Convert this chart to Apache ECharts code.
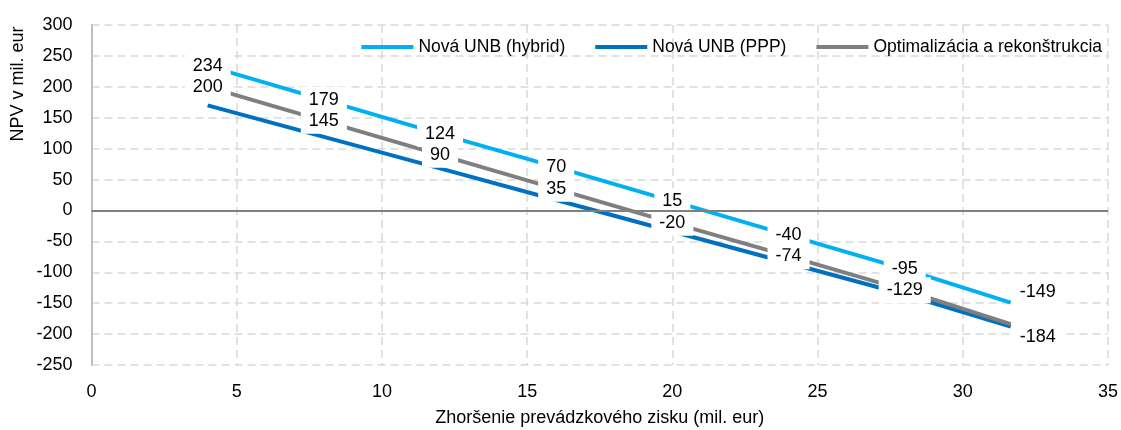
<!DOCTYPE html>
<html>
<head>
<meta charset="utf-8">
<script src="https://cdn.jsdelivr.net/npm/echarts@6/dist/echarts.min.js"></script>
<style>
  html, body { margin: 0; padding: 0; background: #fff; }
  #npvChart { width: 1121px; height: 430px; }
</style>
</head>
<body>
<div id="npvChart"></div>
<script>
// zhoršenie prevádzkového zisku (mil. eur)
var xValues = [4, 8, 12, 16, 20, 24, 28, 31.65];
// NPV v mil. eur
var hybridNpv = [234, 179, 124, 70, 15, -40, -95, -149];
var pppNpv = [170, 119, 68, 17, -34, -85, -136, -188];
var optimNpv = [200, 145, 90, 35, -20, -74, -129, -184];

var seriesNames = ['Nová UNB (hybrid)', 'Nová UNB (PPP)', 'Optimalizácia a rekonštrukcia'];
var FONT = "'Liberation Sans', Arial, sans-serif";

function pairs(vals) {
  return vals.map(function (v, i) { return [xValues[i], v]; });
}

// popisky bodov, posledný bod ide doprava
function labelled(vals, lastOffsetY) {
  var data = pairs(vals);
  return data.map(function (p, i) {
    if (i < data.length - 1) return { value: p };
    return {
      value: p,
      label: { position: 'right', distance: 1, offset: [0, lastOffsetY] }
    };
  });
}

var pointLabel = {
  show: true,
  position: 'inside',
  color: '#000',
  fontFamily: FONT,
  fontSize: 18,
  backgroundColor: '#fff',
  padding: [4, 8],
  formatter: function (p) { return p.value[1]; }
};

var chart = echarts.init(document.getElementById('npvChart'));
chart.setOption({
  animation: false,
  grid: { left: 91.5, right: 13, top: 25, bottom: 65, outerBoundsMode: 'none' },
  legend: {
    right: 14,
    top: 33,
    icon: 'rect',
    itemWidth: 52,
    itemHeight: 4,
    itemGap: 30,
    textStyle: { fontFamily: FONT, fontSize: 17.5, color: '#000' },
    data: seriesNames
  },
  xAxis: {
    type: 'value',
    min: 0,
    max: 35,
    interval: 5,
    name: 'Zhoršenie prevádzkového zisku (mil. eur)',
    nameLocation: 'middle',
    nameGap: 44,
    nameTextStyle: { fontFamily: FONT, fontSize: 18, color: '#000' },
    axisLine: { show: false },
    axisTick: { show: false },
    axisLabel: { margin: 18, fontFamily: FONT, fontSize: 18, color: '#000' },
    splitLine: { show: true, lineStyle: { color: '#d9d9d9', width: 1.5, type: [8, 5] } }
  },
  yAxis: {
    type: 'value',
    min: -250,
    max: 300,
    interval: 50,
    axisLine: { show: true, lineStyle: { color: '#bfbfbf', width: 2 } },
    axisTick: { show: false },
    axisLabel: { margin: 19, fontFamily: FONT, fontSize: 18, color: '#000' },
    splitLine: { show: true, lineStyle: { color: '#d9d9d9', width: 1.5, type: [8, 5] } }
  },
  graphic: [{
    type: 'text',
    x: 18,
    y: 84,
    rotation: Math.PI / 2,
    style: {
      text: 'NPV v mil. eur',
      fontFamily: FONT,
      fontSize: 18,
      fill: '#000',
      align: 'center',
      verticalAlign: 'middle'
    }
  }],
  series: [
    {
      name: seriesNames[1],
      type: 'line',
      data: pairs(pppNpv),
      symbolSize: 0,
      lineStyle: { color: '#0070c0', width: 4 },
      itemStyle: { color: '#0070c0' },
      markLine: {
        silent: true,
        symbol: 'none',
        label: { show: false },
        lineStyle: { color: '#7f7f7f', width: 2, type: 'solid' },
        data: [{ yAxis: 0 }]
      }
    },
    {
      name: seriesNames[2],
      type: 'line',
      data: labelled(optimNpv, 13),
      symbolSize: 0,
      lineStyle: { color: '#7f7f7f', width: 4 },
      itemStyle: { color: '#7f7f7f' },
      label: pointLabel
    },
    {
      name: seriesNames[0],
      type: 'line',
      data: labelled(hybridNpv, -11),
      symbolSize: 0,
      lineStyle: { color: '#00b0f0', width: 4 },
      itemStyle: { color: '#00b0f0' },
      label: pointLabel
    }
  ]
});
</script>
</body>
</html>
